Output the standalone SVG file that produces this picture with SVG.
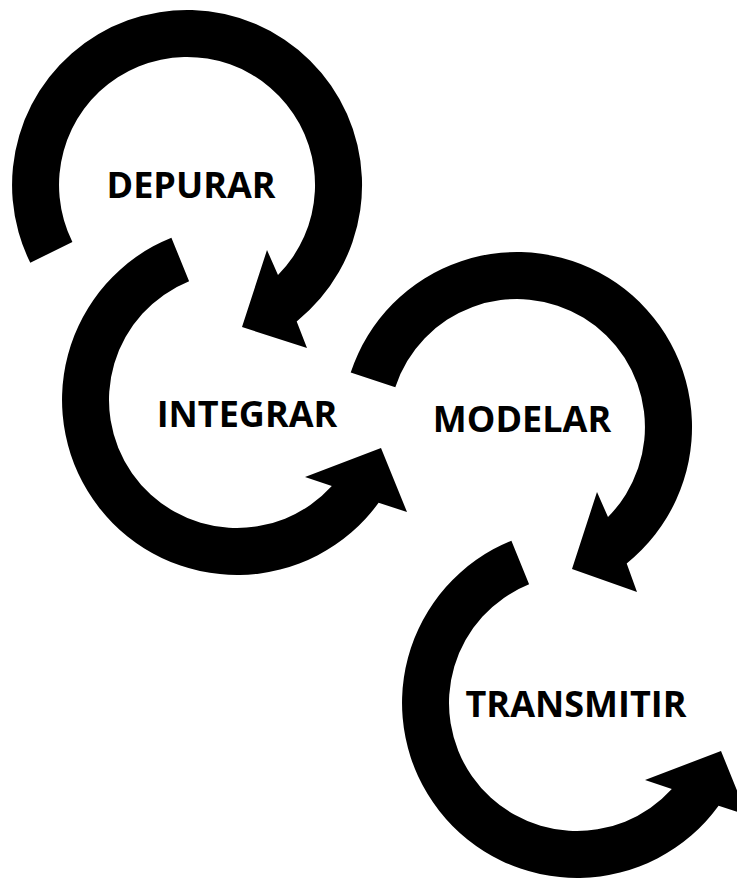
<svg xmlns="http://www.w3.org/2000/svg" width="737" height="878" viewBox="0 0 737 878">
<style>
.arrow{fill:#000;stroke:none}
.lbl{font-family:"Open Sans","Noto Sans","Liberation Sans",sans-serif;font-weight:bold;font-size:36px;fill:#000;text-anchor:middle}
</style>
<rect width="737" height="878" fill="#fff"/>
<g id="connectors">
<path id="arrow-depurar" class="arrow" d="M30.3,262.8 A175,175 0 1 1 296.7,321.4 L307,348 L242,327 L267,250 L278,275 A128,128 0 1 0 72.4,241.9 Z"/>
<path id="arrow-integrar" class="arrow" d="M171.4,237.7 A175,175 0 1 0 378.6,502.8 L407,512 L381,448 L305,477 L331.8,486 A128,128 0 1 1 189.1,281.3 Z"/>
<path id="arrow-modelar" class="arrow" d="M350.7,372.6 A175,175 0 1 1 626.7,563.4 L637,592 L572,569 L597,492 L608,517 A128,128 0 1 0 395.3,387.2 Z"/>
<path id="arrow-transmitir" class="arrow" d="M511.4,540.7 A175,175 0 1 0 718.6,805.8 L747,815 L721,751 L645,780 L671.8,789 A128,128 0 1 1 529.1,584.3 Z"/>
</g>
<g id="node-depurar"><text class="lbl" x="191" y="198">DEPURAR</text></g>
<g id="node-integrar"><text class="lbl" x="247" y="427">INTEGRAR</text></g>
<g id="node-modelar"><text class="lbl" x="522" y="432">MODELAR</text></g>
<g id="node-transmitir"><text class="lbl" x="576" y="717">TRANSMITIR</text></g>
</svg>
